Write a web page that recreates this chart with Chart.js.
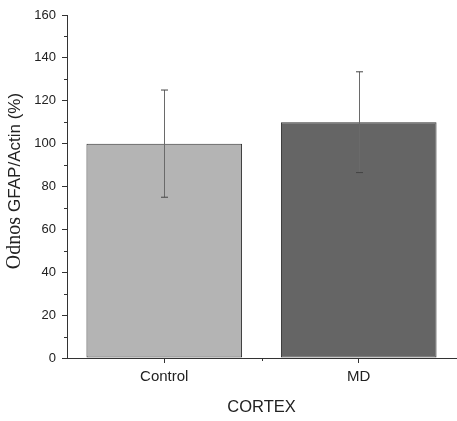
<!DOCTYPE html>
<html>
<head>
<meta charset="utf-8">
<script src="https://cdn.jsdelivr.net/npm/chart.js@4"></script>
<style>
  html, body { margin: 0; padding: 0; background: #fff; }
  #wrap { width: 457px; height: 421px; }
</style>
</head>
<body>
<div id="wrap"><canvas id="c"></canvas></div>
<script>
// data
const categories = ['Control', 'MD'];
const means = [100, 110];
const errLow = [75, 86.5];
const errHigh = [125, 133.5];
const barColors = ['#b4b4b4', '#656565'];
const yTicks = [0, 20, 40, 60, 80, 100, 120, 140, 160];

const axisColor = '#333';

// error bars + minor ticks + mixed-font y title
const extras = {
  id: 'extras',
  afterDatasetsDraw(chart) {
    const { ctx, scales } = chart;
    const y = scales.y;
    const meta = chart.getDatasetMeta(0);
    ctx.save();
    meta.data.forEach((bar, i) => {
      const px = Math.round(bar.x) + 0.5;
      const top = y.getPixelForValue(errHigh[i]);
      const bot = y.getPixelForValue(errLow[i]);
      ctx.strokeStyle = '#6a6a6a';
      ctx.lineWidth = 1;
      ctx.beginPath();
      ctx.moveTo(px, top);
      ctx.lineTo(px, bot);
      ctx.stroke();
      ctx.strokeStyle = '#444';
      ctx.beginPath();
      ctx.moveTo(px - 3.5, top);
      ctx.lineTo(px + 3.5, top);
      ctx.moveTo(px - 3.5, bot);
      ctx.lineTo(px + 3.5, bot);
      ctx.stroke();
    });
    ctx.restore();
  },
  afterDraw(chart) {
    const { ctx, scales } = chart;
    const y = scales.y, x = scales.x;
    ctx.save();
    ctx.strokeStyle = axisColor;
    ctx.lineWidth = 1;
    // minor y ticks
    ctx.beginPath();
    for (let i = 0; i < yTicks.length - 1; i++) {
      const v = (yTicks[i] + yTicks[i + 1]) / 2;
      const py = Math.round(y.getPixelForValue(v)) + 0.5;
      ctx.moveTo(y.right - 3, py);
      ctx.lineTo(y.right, py);
    }
    // minor x tick between categories
    const mid = Math.round((x.getPixelForValue(0) + x.getPixelForValue(1)) / 2) + 0.5;
    ctx.moveTo(mid, x.top);
    ctx.lineTo(mid, x.top + 3);
    ctx.stroke();

    // y axis title: serif word + sans rest
    const cy = 181;
    ctx.translate(15, cy);
    ctx.rotate(-Math.PI / 2);
    ctx.fillStyle = '#222';
    ctx.textBaseline = 'middle';
    const w1Font = '20px "Liberation Serif", serif';
    const w2Font = '17px "Liberation Sans", Arial, sans-serif';
    const w1 = 'Odnos ';
    const w2 = 'GFAP/Actin (%)';
    ctx.font = w1Font;
    const l1 = ctx.measureText(w1).width;
    ctx.font = w2Font;
    const l2 = ctx.measureText(w2).width;
    const sx = -(l1 + l2) / 2;
    ctx.textAlign = 'left';
    ctx.font = w1Font;
    ctx.fillText(w1, sx, 0);
    ctx.font = w2Font;
    ctx.fillText(w2, sx + l1, 0);
    ctx.restore();
  }
};

new Chart(document.getElementById('c'), {
  type: 'bar',
  data: {
    labels: categories,
    datasets: [{
      data: means,
      backgroundColor: barColors,
      borderColor: '#333',
      borderWidth: 1,
      borderSkipped: false,
      barPercentage: 0.8,
      categoryPercentage: 1
    }]
  },
  options: {
    responsive: true,
    maintainAspectRatio: false,
    animation: false,
    layout: { padding: { top: 15, right: 1, left: 0, bottom: 0 } },
    plugins: { legend: { display: false }, tooltip: { enabled: false } },
    scales: {
      x: {
        afterFit(s) { s.height = 63; },
        border: { color: axisColor, width: 1 },
        grid: { offset: false, drawOnChartArea: false, tickLength: 5, color: axisColor },
        ticks: { color: '#222', padding: 5, font: { family: 'Liberation Sans, Arial', size: 15 } },
        title: { display: true, text: 'CORTEX', color: '#222', padding: { top: 5 },
                 font: { family: 'Liberation Sans, Arial', size: 16.5 } }
      },
      y: {
        min: 0, max: 160,
        afterFit(s) { s.width = 67; },
        afterBuildTicks(s) { s.ticks = yTicks.map(v => ({ value: v })); },
        border: { color: axisColor, width: 1 },
        grid: { drawOnChartArea: false, tickLength: 5, color: axisColor },
        ticks: { color: '#222', padding: 6, font: { family: 'Liberation Sans, Arial', size: 13 } }
      }
    }
  },
  plugins: [extras]
});
</script>
</body>
</html>
